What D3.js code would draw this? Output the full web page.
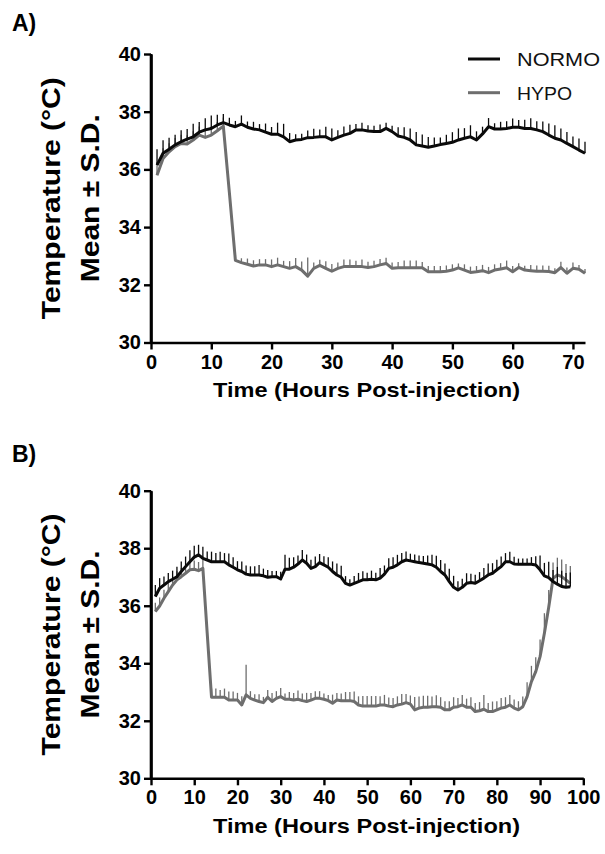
<!DOCTYPE html>
<html>
<head>
<meta charset="utf-8">
<script src="https://cdn.jsdelivr.net/npm/d3@7"></script>
<style>
  html, body { margin: 0; padding: 0; background: #fff; }
  svg { display: block; }
  text { font-family: Arial, "Liberation Sans", Helvetica, sans-serif; }
</style>
</head>
<body>
<svg id="chart" width="605" height="854"></svg>
<script>
// ---------- DATA ----------
const seriesNames = ["NORMO", "HYPO"];
const yTicks = [30, 32, 34, 36, 38, 40];
const xTicksA = [0, 10, 20, 30, 40, 50, 60, 70];
const xTicksB = [0, 10, 20, 30, 40, 50, 60, 70, 80, 90, 100];

// Panel A: hours 1..72
const hoursA = d3.range(1, 73);
const normoA = [
  36.15, 36.56, 36.70, 36.85, 36.96, 37.05, 37.13, 37.29, 37.37, 37.42,
  37.54, 37.62, 37.54, 37.48, 37.57, 37.46, 37.40, 37.37, 37.29, 37.22,
  37.22, 37.13, 36.96, 37.02, 37.04, 37.10, 37.11, 37.13, 37.13, 37.02,
  37.11, 37.19, 37.25, 37.37, 37.37, 37.33, 37.31, 37.31, 37.42, 37.31,
  37.16, 37.11, 37.02, 36.85, 36.81, 36.77, 36.81, 36.86, 36.90, 36.94,
  37.02, 37.08, 37.13, 37.02, 37.23, 37.48, 37.40, 37.40, 37.42, 37.46,
  37.46, 37.42, 37.42, 37.37, 37.31, 37.19, 37.08, 37.02, 36.90, 36.79,
  36.67, 36.56
];
const normoSdA = [
  0.55, 0.45, 0.40, 0.35, 0.40, 0.35, 0.45, 0.35, 0.40, 0.45,
  0.35, 0.30, 0.25, 0.20, 0.30, 0.20, 0.25, 0.20, 0.30, 0.25,
  0.40, 0.45, 0.30, 0.20, 0.20, 0.25, 0.30, 0.25, 0.35, 0.40,
  0.25, 0.30, 0.30, 0.20, 0.25, 0.20, 0.20, 0.25, 0.20, 0.20,
  0.30, 0.35, 0.40, 0.45, 0.40, 0.35, 0.30, 0.25, 0.30, 0.35,
  0.40, 0.35, 0.40, 0.30, 0.25, 0.30, 0.20, 0.25, 0.25, 0.30,
  0.25, 0.30, 0.35, 0.30, 0.35, 0.40, 0.45, 0.40, 0.40, 0.35,
  0.40, 0.40
];
const hypoA = [
  35.80, 36.38, 36.61, 36.79, 36.90, 36.88, 37.02, 37.19, 37.11, 37.19,
  37.34, 37.50, 35.20, 32.85, 32.77, 32.71, 32.65, 32.69, 32.69, 32.63,
  32.69, 32.63, 32.57, 32.63, 32.51, 32.30, 32.57, 32.67, 32.57, 32.47,
  32.57, 32.63, 32.63, 32.63, 32.63, 32.60, 32.63, 32.69, 32.74, 32.57,
  32.59, 32.59, 32.59, 32.59, 32.59, 32.45, 32.45, 32.45, 32.47, 32.51,
  32.59, 32.51, 32.43, 32.45, 32.49, 32.42, 32.51, 32.55, 32.59, 32.45,
  32.60, 32.51, 32.49, 32.47, 32.47, 32.46, 32.42, 32.60, 32.40, 32.57,
  32.54, 32.40
];
const hypoSdA = [
  0.45, 0.35, 0.30, 0.30, 0.30, 0.30, 0.30, 0.30, 0.30, 0.30,
  0.30, 0.30, 0.30, 0.20, 0.15, 0.20, 0.20, 0.20, 0.20, 0.25,
  0.25, 0.20, 0.25, 0.30, 0.30, 0.65, 0.20, 0.20, 0.25, 0.25,
  0.20, 0.25, 0.25, 0.20, 0.25, 0.20, 0.20, 0.20, 0.20, 0.20,
  0.20, 0.25, 0.25, 0.25, 0.20, 0.20, 0.20, 0.20, 0.20, 0.20,
  0.15, 0.20, 0.20, 0.20, 0.20, 0.20, 0.20, 0.20, 0.25, 0.20,
  0.15, 0.15, 0.20, 0.20, 0.20, 0.20, 0.15, 0.20, 0.20, 0.20,
  0.15, 0.15
];

// Panel B: hours 1..97
const hoursB = d3.range(1, 98);
const normoB = [
  36.32, 36.61, 36.72, 36.84, 36.92, 37.01, 37.19, 37.36, 37.53, 37.69,
  37.77, 37.65, 37.59, 37.53, 37.53, 37.53, 37.53, 37.42, 37.34, 37.25,
  37.19, 37.10, 37.07, 37.07, 37.07, 37.04, 36.99, 37.01, 37.01, 36.93,
  37.27, 37.27, 37.34, 37.45, 37.59, 37.48, 37.30, 37.36, 37.50, 37.42,
  37.34, 37.19, 37.07, 36.99, 36.78, 36.72, 36.78, 36.84, 36.90, 36.90,
  36.92, 36.90, 36.96, 37.10, 37.30, 37.34, 37.42, 37.53, 37.59, 37.56,
  37.53, 37.50, 37.48, 37.45, 37.42, 37.34, 37.19, 37.07, 36.84, 36.64,
  36.55, 36.64, 36.78, 36.81, 36.78, 36.87, 36.96, 37.07, 37.13, 37.25,
  37.36, 37.53, 37.53, 37.45, 37.44, 37.44, 37.44, 37.44, 37.42, 37.25,
  37.04, 36.98, 36.84, 36.75, 36.67, 36.64, 36.66
];
const normoSdB = [
  0.40, 0.35, 0.30, 0.30, 0.30, 0.35, 0.35, 0.35, 0.40, 0.40,
  0.35, 0.40, 0.30, 0.35, 0.30, 0.35, 0.30, 0.40, 0.35, 0.30,
  0.35, 0.30, 0.30, 0.30, 0.35, 0.25, 0.25, 0.20, 0.20, 0.25,
  0.50, 0.40, 0.35, 0.30, 0.35, 0.30, 0.30, 0.35, 0.30, 0.30,
  0.35, 0.35, 0.40, 0.40, 0.25, 0.20, 0.25, 0.30, 0.30, 0.25,
  0.30, 0.25, 0.35, 0.30, 0.35, 0.35, 0.35, 0.30, 0.30, 0.25,
  0.25, 0.25, 0.25, 0.30, 0.35, 0.40, 0.40, 0.40, 0.45, 0.40,
  0.30, 0.30, 0.35, 0.30, 0.30, 0.30, 0.35, 0.40, 0.35, 0.35,
  0.35, 0.30, 0.35, 0.25, 0.20, 0.20, 0.20, 0.25, 0.30, 0.50,
  0.45, 0.55, 0.40, 0.60, 0.55, 0.50, 0.50
];
const hypoB = [
  35.80, 35.99, 36.26, 36.49, 36.72, 36.90, 37.01, 37.13, 37.25, 37.27,
  37.22, 37.30, 35.05, 32.82, 32.82, 32.82, 32.82, 32.72, 32.72, 32.72,
  32.55, 32.90, 32.78, 32.72, 32.67, 32.63, 32.82, 32.67, 32.78, 32.84,
  32.75, 32.75, 32.72, 32.75, 32.70, 32.67, 32.72, 32.78, 32.78, 32.75,
  32.70, 32.61, 32.72, 32.70, 32.70, 32.70, 32.67, 32.55, 32.51, 32.51,
  32.51, 32.51, 32.55, 32.55, 32.51, 32.49, 32.55, 32.58, 32.63, 32.58,
  32.38, 32.44, 32.47, 32.47, 32.49, 32.49, 32.47, 32.38, 32.38, 32.47,
  32.49, 32.55, 32.47, 32.47, 32.32, 32.35, 32.40, 32.32, 32.32, 32.38,
  32.44, 32.47, 32.55, 32.44, 32.38, 32.49, 32.84, 33.36, 33.71, 34.23,
  35.04, 35.95, 36.95, 37.07, 37.01, 36.90, 36.78
];
const hypoSdB = [
  0.30, 0.30, 0.30, 0.30, 0.30, 0.30, 0.30, 0.30, 0.30, 0.30,
  0.30, 0.30, 0.30, 0.30, 0.30, 0.25, 0.30, 0.30, 0.30, 0.25,
  0.30, 1.05, 0.25, 0.20, 0.25, 0.20, 0.25, 0.30, 0.25, 0.30,
  0.20, 0.25, 0.25, 0.30, 0.25, 0.30, 0.25, 0.25, 0.25, 0.20,
  0.20, 0.30, 0.25, 0.25, 0.30, 0.30, 0.35, 0.30, 0.35, 0.35,
  0.35, 0.35, 0.30, 0.35, 0.30, 0.30, 0.30, 0.35, 0.30, 0.30,
  0.45, 0.40, 0.40, 0.40, 0.35, 0.40, 0.35, 0.30, 0.30, 0.35,
  0.30, 0.35, 0.30, 0.35, 0.30, 0.30, 0.50, 0.30, 0.35, 0.30,
  0.35, 0.35, 0.35, 0.30, 0.30, 0.35, 0.50, 0.55, 0.50, 0.60,
  0.70, 0.60, 0.55, 0.60, 0.60, 0.55, 0.60
];

// ---------- STYLE ----------
const colors = { NORMO: "#0a0a0a", HYPO: "#6e6e6e" };
const FONT = 'Arial, "Liberation Sans", Helvetica, sans-serif';

const svg = d3.select("#chart");

function drawPanel(cfg) {
  const x = d3.scaleLinear().domain(cfg.xDomain).range([cfg.left, cfg.right]);
  const y = d3.scaleLinear().domain([30, 40]).range([cfg.bottom, cfg.top]);
  const g = svg.append("g");

  const series = [
    { name: "HYPO", hours: cfg.hours, mean: cfg.hypo, sd: cfg.hypoSd },
    { name: "NORMO", hours: cfg.hours, mean: cfg.normo, sd: cfg.normoSd }
  ];

  series.forEach(s => {
    const pts = s.hours.map((h, i) => ({ h, m: s.mean[i], sd: s.sd[i] }));
    // error bars (above only)
    g.append("g").selectAll("line").data(pts).join("line")
      .attr("x1", d => x(d.h)).attr("x2", d => x(d.h))
      .attr("y1", d => y(d.m)).attr("y2", d => y(d.m + d.sd))
      .attr("stroke", colors[s.name]).attr("stroke-width", 1.3);
    // mean line
    g.append("path").datum(pts)
      .attr("fill", "none")
      .attr("stroke", colors[s.name])
      .attr("stroke-width", 3)
      .attr("stroke-linejoin", "round")
      .attr("d", d3.line().x(d => x(d.h)).y(d => y(d.m)));
  });

  // axes
  const yAxis = g.append("g").attr("transform", `translate(${cfg.left},0)`)
    .call(d3.axisLeft(y).tickValues(yTicks).tickSize(7).tickSizeOuter(0).tickPadding(3));
  const xAxis = g.append("g").attr("transform", `translate(0,${cfg.bottom})`)
    .call(d3.axisBottom(x).tickValues(cfg.xTicks).tickSize(7).tickSizeOuter(0).tickPadding(5));
  [yAxis, xAxis].forEach(a => {
    a.select(".domain").attr("stroke", "#000").attr("stroke-width", 2.6);
    a.selectAll(".tick line").attr("stroke", "#000").attr("stroke-width", 2.4);
    a.selectAll(".tick text")
      .attr("fill", "#000")
      .style("font-family", FONT)
      .style("font-size", "20px")
      .style("font-weight", "bold");
  });
  // join corner
  g.append("line")
    .attr("x1", cfg.left).attr("x2", cfg.left)
    .attr("y1", cfg.top).attr("y2", cfg.bottom + 1.3)
    .attr("stroke", "#000").attr("stroke-width", 2.6);

  // axis titles
  const cy = (cfg.top + cfg.bottom) / 2;
  g.append("text")
    .attr("transform", `translate(60,${cy}) rotate(-90)`)
    .attr("text-anchor", "middle")
    .attr("textLength", 242).attr("lengthAdjust", "spacingAndGlyphs")
    .style("font-size", "25px").style("font-weight", "bold")
    .text("Temperature (°C)");
  g.append("text")
    .attr("transform", `translate(99,${cy}) rotate(-90)`)
    .attr("text-anchor", "middle")
    .attr("textLength", 168).attr("lengthAdjust", "spacingAndGlyphs")
    .style("font-size", "25px").style("font-weight", "bold")
    .text("Mean ± S.D.");
  g.append("text")
    .attr("x", 366.5).attr("y", cfg.bottom + 54.5)
    .attr("text-anchor", "middle")
    .attr("textLength", 307).attr("lengthAdjust", "spacingAndGlyphs")
    .style("font-size", "21px").style("font-weight", "bold")
    .text("Time (Hours Post-injection)");

  // panel label
  g.append("text")
    .attr("x", 12).attr("y", cfg.labelY)
    .style("font-size", "23px").style("font-weight", "bold")
    .text(cfg.label);

  return g;
}

drawPanel({
  label: "A)", labelY: 31,
  left: 151, right: 585, top: 54, bottom: 342.5,
  xDomain: [0, 72], xTicks: xTicksA,
  hours: hoursA, normo: normoA, normoSd: normoSdA, hypo: hypoA, hypoSd: hypoSdA
});

drawPanel({
  label: "B)", labelY: 462,
  left: 151, right: 583.3, top: 490.7, bottom: 778.3,
  xDomain: [0, 100], xTicks: xTicksB,
  hours: hoursB, normo: normoB, normoSd: normoSdB, hypo: hypoB, hypoSd: hypoSdB
});

// legend (panel A)
const legend = svg.append("g");
const legendRows = [
  { name: seriesNames[0], y: 59, len: 83 },
  { name: seriesNames[1], y: 92.7, len: 55 }
];
legendRows.forEach(r => {
  legend.append("line")
    .attr("x1", 468).attr("x2", 500).attr("y1", r.y).attr("y2", r.y)
    .attr("stroke", colors[r.name]).attr("stroke-width", 3);
  legend.append("text")
    .attr("x", 517).attr("y", r.y + 7.2)
    .attr("textLength", r.len).attr("lengthAdjust", "spacingAndGlyphs")
    .style("font-size", "19px")
    .attr("fill", "#111")
    .text(r.name);
});
</script>
</body>
</html>
